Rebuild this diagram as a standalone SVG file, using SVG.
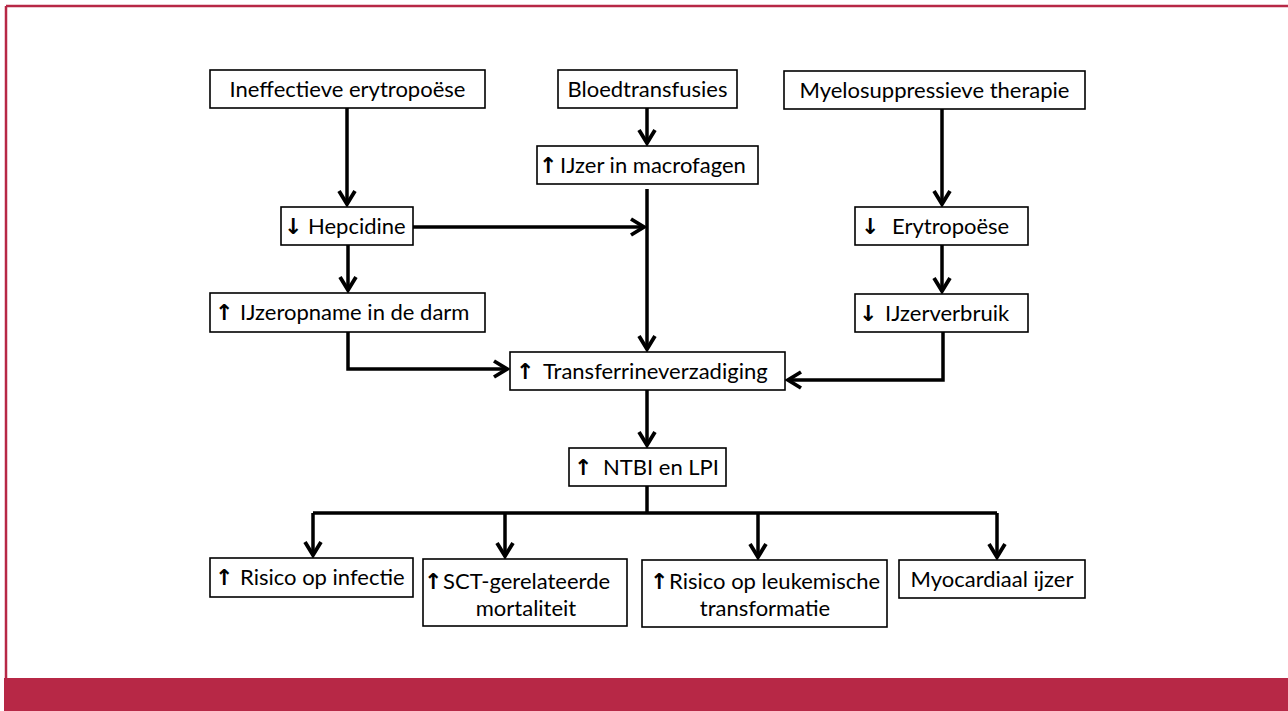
<svg xmlns="http://www.w3.org/2000/svg" width="1288" height="711" viewBox="0 0 1288 711">
<defs>
<marker id="arr" markerUnits="userSpaceOnUse" viewBox="-16 -10 20 20" refX="0" refY="0" markerWidth="20" markerHeight="20" orient="auto" overflow="visible">
<path d="M-13,-8 L0,0 L-13,8" fill="none" stroke="#000" stroke-width="3.8" stroke-linejoin="miter"/>
</marker>
<style>
.box{fill:#fff;stroke:#000;stroke-width:1.6}
.t{font-family:Lato,"Open Sans","DejaVu Sans",sans-serif;font-size:22px;fill:#000}
.a{font-family:"DejaVu Sans",sans-serif;font-size:22px;font-weight:bold}
.c{fill:none;stroke:#000;stroke-width:3.5;marker-end:url(#arr)}
.n{fill:none;stroke:#000;stroke-width:3.5}
</style>
</defs>
<rect width="1288" height="711" fill="#fff"/>
<g id="frame">
<line x1="6" y1="6" x2="1288" y2="6" stroke="#B72846" stroke-width="2.5"/>
<line x1="6" y1="6" x2="6" y2="680" stroke="#B72846" stroke-width="2.5"/>
<rect x="4" y="678" width="1284" height="33" fill="#B72846"/>
</g>
<g id="connectors">
<path class="c" d="M347,108 V204"/>
<path class="c" d="M647,108 V143"/>
<path class="c" d="M942,109 V204"/>
<path class="c" d="M413,227 H644"/>
<path class="c" d="M647,189 V349"/>
<path class="c" d="M348,245 V290"/>
<path class="c" d="M942,245 V291"/>
<path class="c" d="M348,332 V369 H507"/>
<path class="c" d="M943,332 V380 H788"/>
<path class="c" d="M647,390 V445"/>
<path class="n" d="M647,486 V513"/>
<path class="n" d="M313,513 H997"/>
<path class="c" d="M313,513 V555"/>
<path class="c" d="M505,513 V556"/>
<path class="c" d="M758,513 V557"/>
<path class="c" d="M997,513 V557"/>
</g>
<g id="n-ineff">
<rect class="box" x="210" y="70" width="275" height="38"/>
<text class="t" x="347.5" y="97" text-anchor="middle">Ineffectieve erytropoëse</text>
</g>
<g id="n-bloed">
<rect class="box" x="558" y="70" width="179" height="38"/>
<text class="t" x="647.5" y="97" text-anchor="middle">Bloedtransfusies</text>
</g>
<g id="n-myelo">
<rect class="box" x="784" y="71" width="301" height="38"/>
<text class="t" x="934.5" y="98" text-anchor="middle">Myelosuppressieve therapie</text>
</g>
<g id="n-macro">
<rect class="box" x="537" y="146" width="221" height="38"/>
<text class="t" y="173"><tspan class="a" x="539">↑</tspan><tspan x="560">IJzer in macrofagen</tspan></text>
</g>
<g id="n-hepcidine">
<rect class="box" x="281" y="207" width="132" height="38"/>
<text class="t" y="234"><tspan class="a" x="284">↓</tspan><tspan x="308">Hepcidine</tspan></text>
</g>
<g id="n-erytro">
<rect class="box" x="855" y="207" width="173" height="38"/>
<text class="t" y="234"><tspan class="a" x="861">↓</tspan><tspan x="892">Erytropoëse</tspan></text>
</g>
<g id="n-ijzeropname">
<rect class="box" x="210" y="293" width="275" height="39"/>
<text class="t" y="320"><tspan class="a" x="215">↑</tspan><tspan x="240">IJzeropname in de darm</tspan></text>
</g>
<g id="n-verbruik">
<rect class="box" x="855" y="294" width="173" height="38"/>
<text class="t" y="321"><tspan class="a" x="859">↓</tspan><tspan x="885">IJzerverbruik</tspan></text>
</g>
<g id="n-transferrine">
<rect class="box" x="510" y="352" width="275" height="38"/>
<text class="t" y="379"><tspan class="a" x="516">↑</tspan><tspan x="543">Transferrineverzadiging</tspan></text>
</g>
<g id="n-ntbi">
<rect class="box" x="569" y="448" width="157" height="38"/>
<text class="t" y="475"><tspan class="a" x="574">↑</tspan><tspan x="603">NTBI en LPI</tspan></text>
</g>
<g id="n-infectie">
<rect class="box" x="210" y="558" width="203" height="39"/>
<text class="t" y="585"><tspan class="a" x="215">↑</tspan><tspan x="240">Risico op infectie</tspan></text>
</g>
<g id="n-sct">
<rect class="box" x="423" y="559" width="204" height="67"/>
<text class="t" y="589"><tspan class="a" x="424">↑</tspan><tspan x="443">SCT-gerelateerde</tspan></text>
<text class="t" x="526" y="616" text-anchor="middle">mortaliteit</text>
</g>
<g id="n-leuk">
<rect class="box" x="642" y="560" width="245" height="67"/>
<text class="t" y="589"><tspan class="a" x="650">↑</tspan><tspan x="669">Risico op leukemische</tspan></text>
<text class="t" x="765" y="616" text-anchor="middle">transformatie</text>
</g>
<g id="n-myo">
<rect class="box" x="899" y="560" width="186" height="38"/>
<text class="t" x="992" y="587" text-anchor="middle">Myocardiaal ijzer</text>
</g>
</svg>
